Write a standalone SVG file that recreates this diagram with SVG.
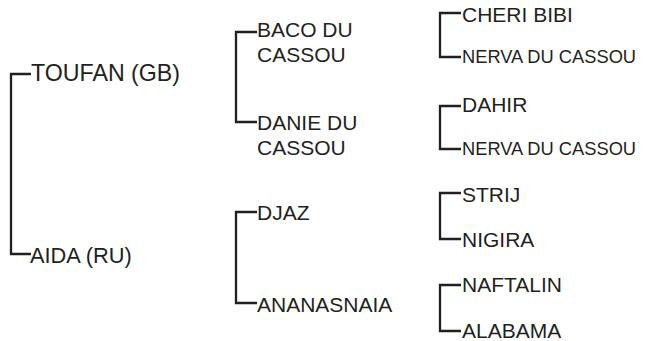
<svg xmlns="http://www.w3.org/2000/svg" width="649" height="341" viewBox="0 0 649 341">
<style>
text{font-family:"Liberation Sans",Arial,sans-serif;fill:#231f20}
.g1{font-size:23.2px}
.g1b{font-size:21.8px}
.g2{font-size:21px}
.sm{font-size:18.3px}
.c path{fill:none;stroke:#231f20;stroke-width:2.3}
</style>
<rect width="649" height="341" fill="#fff"/>
<g class="c" id="connectors">
<path d="M31 74H11V254H31"/>
<path d="M257 32H236V122H257"/>
<path d="M257 212H236V303H257"/>
<path d="M461 13H440V57H461"/>
<path d="M461 106H440V149H461"/>
<path d="M461 193H440V239H461"/>
<path d="M461 285H440V331H461"/>
</g>
<g id="n-toufan"><text class="g1" x="31" y="81">TOUFAN (GB)</text></g>
<g id="n-aida"><text class="g1b" x="30" y="263">AIDA (RU)</text></g>
<g id="n-baco"><text class="g2" x="257" y="37">BACO DU</text><text class="g2" x="257" y="62">CASSOU</text></g>
<g id="n-danie"><text class="g2" x="257" y="130">DANIE DU</text><text class="g2" x="257" y="155">CASSOU</text></g>
<g id="n-djaz"><text class="g2" x="257" y="220">DJAZ</text></g>
<g id="n-ananasnaia"><text class="g2" x="257" y="312">ANANASNAIA</text></g>
<g id="n-cheri"><text class="g2" x="462" y="22">CHERI BIBI</text></g>
<g id="n-nerva1"><text class="sm" x="462" y="63">NERVA DU CASSOU</text></g>
<g id="n-dahir"><text class="g2" x="462" y="112">DAHIR</text></g>
<g id="n-nerva2"><text class="sm" x="462" y="155">NERVA DU CASSOU</text></g>
<g id="n-strij"><text class="g2" x="462" y="202">STRIJ</text></g>
<g id="n-nigira"><text class="g2" x="462" y="247">NIGIRA</text></g>
<g id="n-naftalin"><text class="g2" x="462" y="292">NAFTALIN</text></g>
<g id="n-alabama"><text class="g2" x="462" y="338">ALABAMA</text></g>
</svg>
